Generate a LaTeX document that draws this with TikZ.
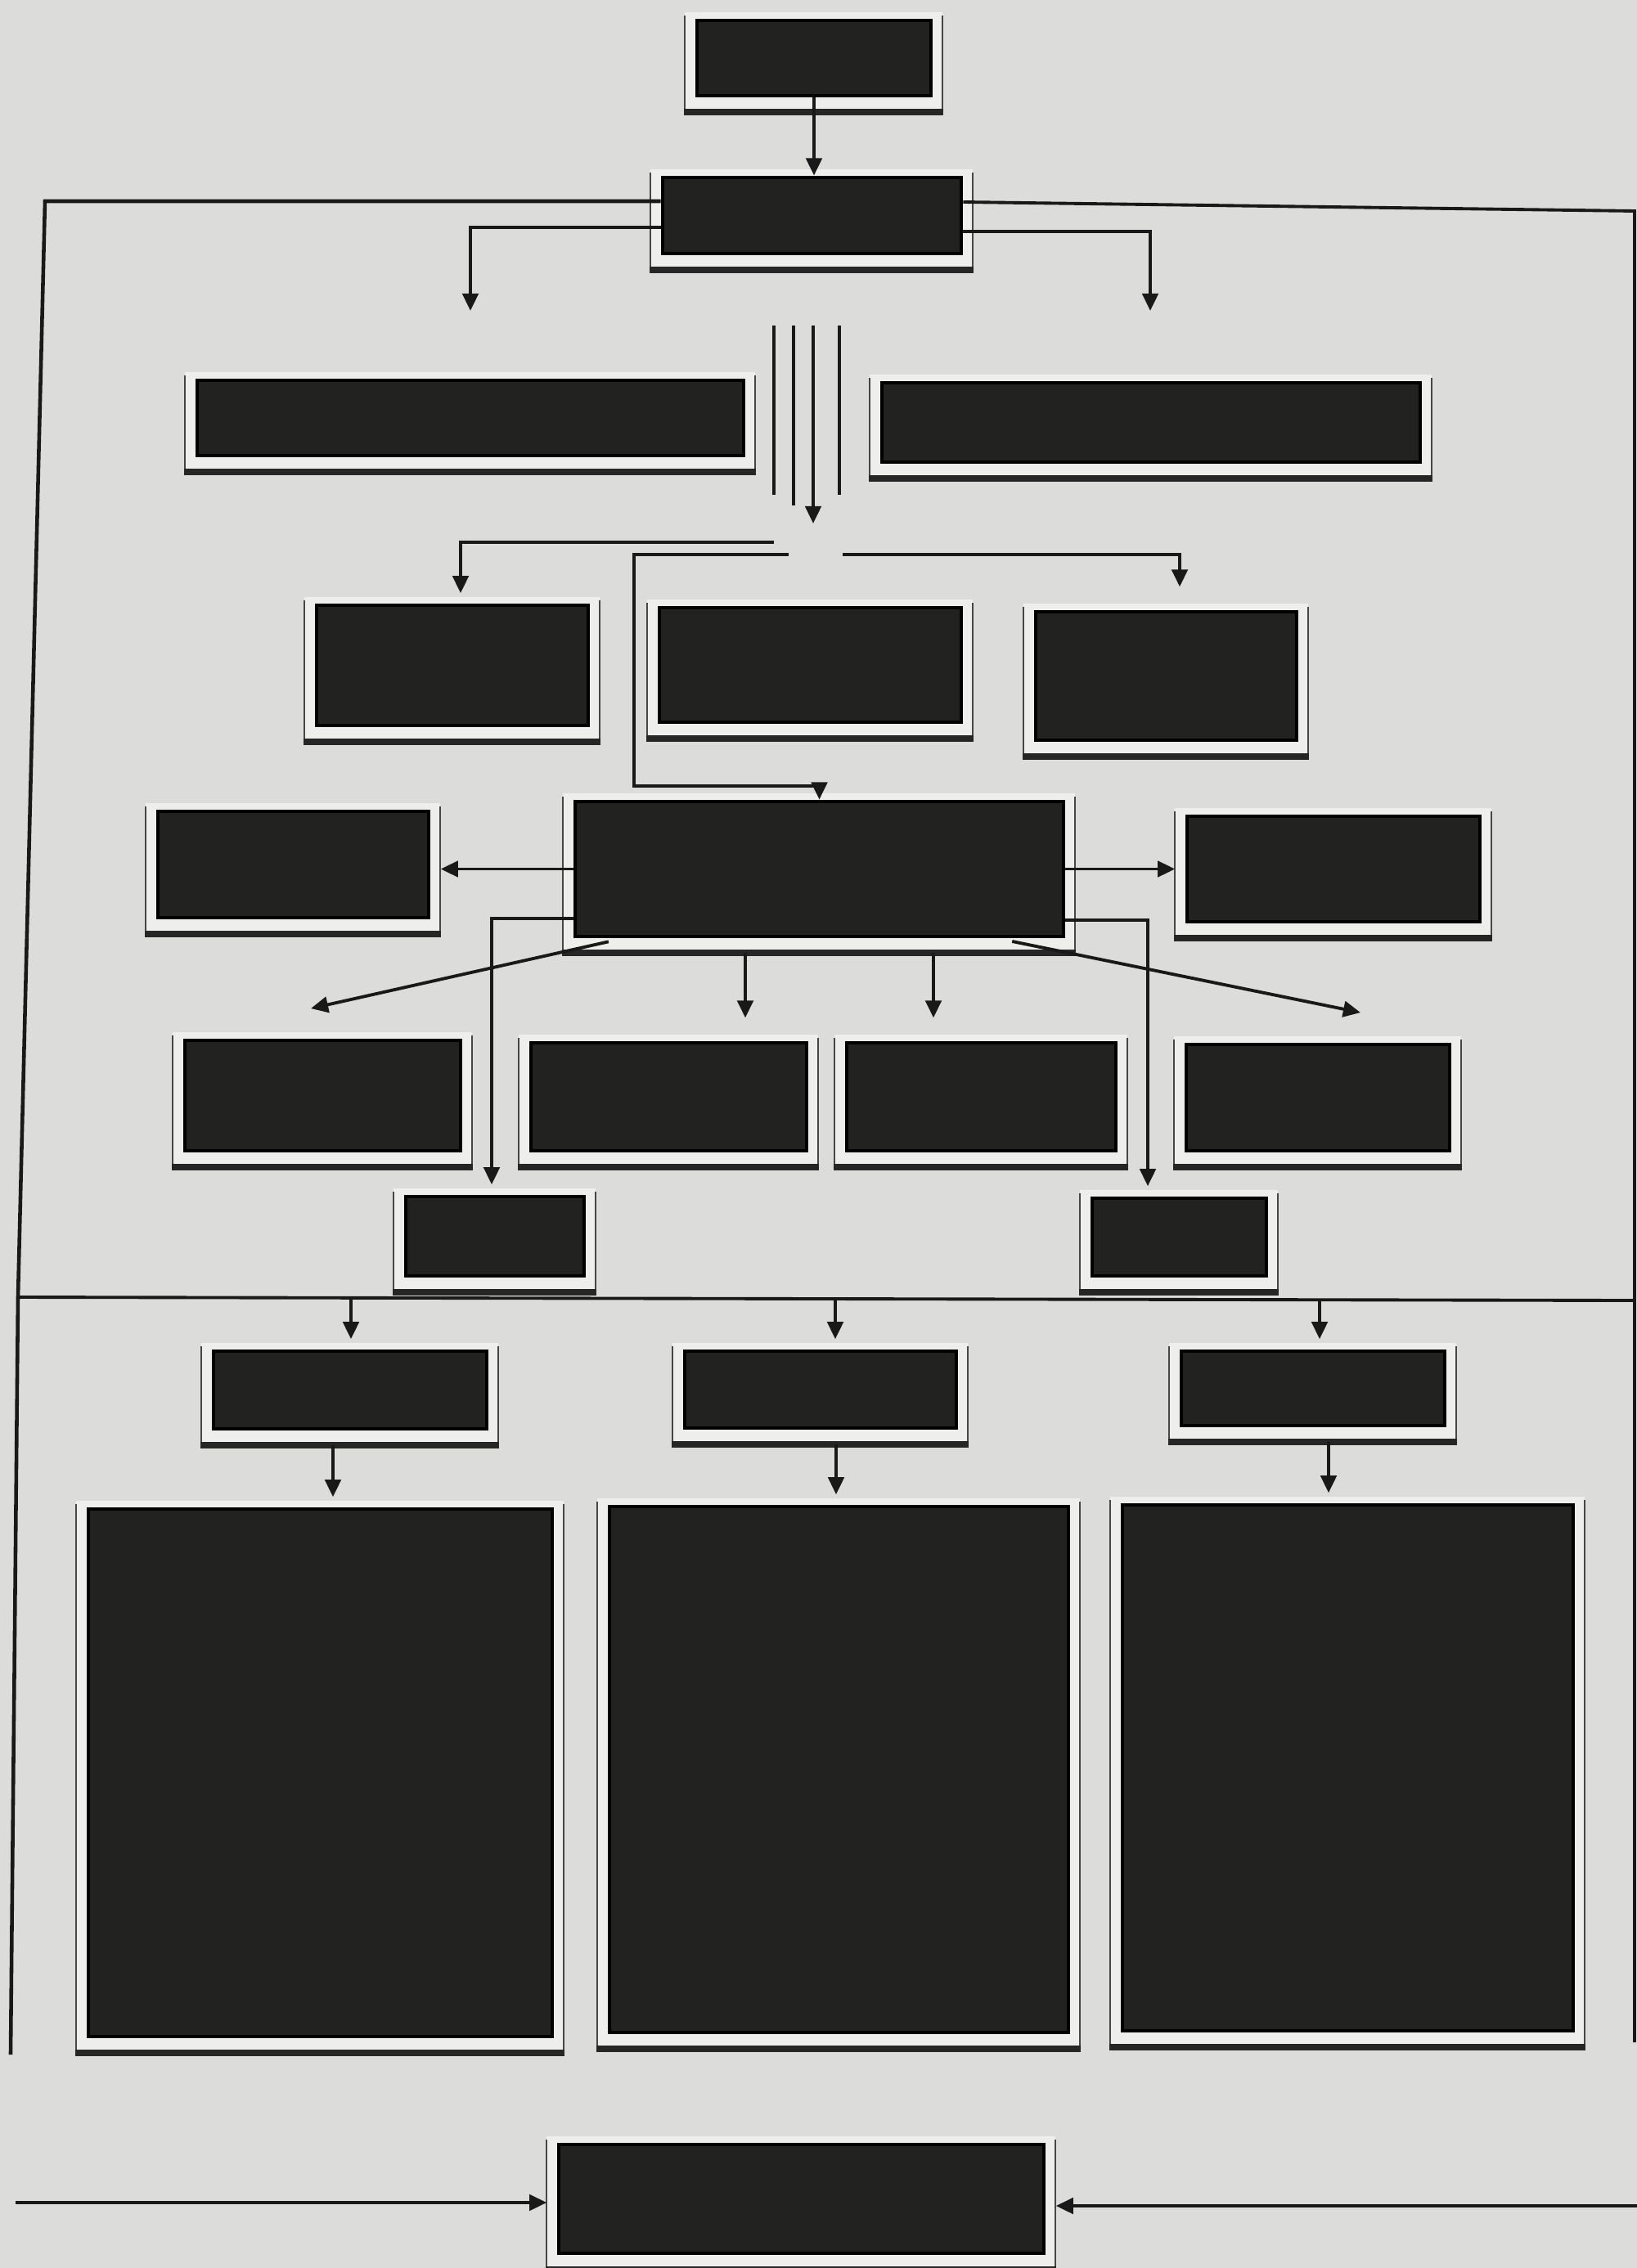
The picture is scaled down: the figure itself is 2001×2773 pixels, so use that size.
\documentclass[tikz,border=0pt]{standalone}
\usetikzlibrary{arrows.meta,fit}
\definecolor{bg}{RGB}{220,221,218}
\definecolor{boxfill}{RGB}{34,34,33}
\definecolor{framefill}{RGB}{238,239,236}
\definecolor{frameline}{RGB}{70,70,70}
\tikzset{
 dk/.style={draw=black, line width=1.4pt, fill=boxfill, inner sep=0pt},
 ln/.style={line width=1.1pt, draw=black!90},
 arr/.style={ln, -{Triangle[length=6pt,width=5.5pt]}},
 tofr/.style={shorten >=3.5pt},
 fromfr/.style={shorten <=5pt},
 frside/.style={draw=frameline, line width=0.8pt},
 frbot/.style={draw=black!85, line width=2.4pt},
}
\newcommand\dbox[5]{%
  \fill[framefill] (#2-15,#3-10) rectangle (#4+14,#5+20);
  \draw[frside] (#2-15,#3-6) -- (#2-15,#5+20) (#4+14,#3-6) -- (#4+14,#5+20);
  \draw[frbot] (#2-16,#5+20) -- (#4+15,#5+20);
  \node[dk, fit={(#2,#3) (#4,#5)}] (#1) {};}
\begin{document}
\begin{tikzpicture}[x=0.01cm,y=-0.01cm]
\fill[bg] (0,0) rectangle (2001,2773);
\useasboundingbox (0,0) rectangle (2001,2773);
% boxes
\dbox{b1}{852}{25}{1138}{117}
\dbox{b2}{810}{217}{1175}{310}
\dbox{r2l}{241}{465}{909}{557}
\dbox{r2r}{1078}{468}{1736}{565}
\dbox{r3a}{387}{740}{719}{887}
\dbox{r3b}{806}{743}{1175}{883}
\dbox{r3c}{1266}{748}{1585}{905}
\dbox{r4l}{193}{992}{524}{1122}
\dbox{r4c}{703}{980}{1300}{1145}
\dbox{r4r}{1451}{998}{1809}{1127}
\dbox{r5a}{226}{1272}{563}{1407}
\dbox{r5b}{649}{1275}{986}{1407}
\dbox{r5c}{1035}{1275}{1364}{1407}
\dbox{r5d}{1450}{1277}{1772}{1407}
\dbox{r6a}{496}{1463}{714}{1560}
\dbox{r6b}{1335}{1465}{1548}{1560}
\dbox{r7a}{261}{1652}{595}{1747}
\dbox{r7b}{837}{1652}{1169}{1746}
\dbox{r7c}{1444}{1652}{1766}{1743}
\dbox{b8a}{108}{1845}{675}{2490}
\dbox{b8b}{745}{1842}{1306}{2485}
\dbox{b8c}{1372}{1840}{1923}{2483}
\dbox{bot}{683}{2622}{1276}{2755}
% frame lines
\coordinate (ftl) at (55,246);
\coordinate (ftr) at (1998,258);
\coordinate (fml) at (22,1586);
\coordinate (fmr) at (1998,1590);
\draw[ln, line width=1.3pt] (ftl -| b2.west) -- (ftl) -- (fml) -- (13,2512);
\draw[ln] (b2.east |- 0,247) -- (ftr) -- (1998,2497);
\draw[ln] (fml) -- (fmr);
% top connectors
\draw[arr] (b1.south) -- (b1.south |- b2.north);
\draw[arr] (b2.west |- 0,278) -- (575,278) -- (575,380);
\draw[arr] (b2.east |- 0,283) -- (1406,283) -- (1406,380);
% four vertical lines
\draw[ln] (946,398) -- (946,605);
\draw[ln] (970,398) -- (970,618);
\draw[arr] (994,398) -- (994,640);
\draw[ln] (1026,398) -- (1026,605);
% row 3 branches
\draw[arr,tofr] (946,663) -- (563,663) -- (563,0 |- r3a.north);
\draw[arr,shorten >=8pt] (1030,678) -- (1442,678) -- (1442,0 |- r3c.north);
\draw[arr] (964,678) -- (775,678) -- (775,961) -- (r4c.north |- 0,961) -- (r4c.north);
% row 4 side arrows
\draw[arr,tofr] (r4c.west) -- (r4l.east |- r4c.west);
\draw[arr,tofr] (r4c.east) -- (r4r.west |- r4c.east);
\draw[arr,tofr] (r4c.west |- 0,1123) -- (601,1123) -- (601,0 |- r6a.north);
\draw[arr,tofr] (r4c.east |- 0,1125) -- (1403,1125) -- (1403,0 |- r6b.north);
% fan to row 5
\coordinate (fanl) at (380,1233);
\coordinate (fanr) at (1663,1238);
\draw[arr,fromfr] (r4c.south -| 761,0) -- (fanl);
\draw[arr,fromfr,shorten >=8pt] (r4c.south -| 911,0) -- (911,0 |- r5b.north);
\draw[arr,fromfr,shorten >=8pt] (r4c.south -| 1141,0) -- (1141,0 |- r5c.north);
\draw[arr,fromfr] (r4c.south -| 1220,0) -- (fanr);
% from middle line to row 7
\draw[arr,tofr] (429,1587) -- (r7a.north -| 429,0);
\draw[arr,tofr] (1021,1588) -- (r7b.north -| 1021,0);
\draw[arr,tofr] (1613,1589) -- (r7c.north -| 1613,0);
% row 7 to big boxes
\draw[arr,fromfr,tofr] (r7a.south -| 407,0) -- (b8a.north -| 407,0);
\draw[arr,fromfr,tofr] (r7b.south -| 1022,0) -- (b8b.north -| 1022,0);
\draw[arr,fromfr,tofr] (r7c.south -| 1624,0) -- (b8c.north -| 1624,0);
% bottom arrows
\draw[arr,tofr] (19,2693) -- (bot.west |- 0,2693);
\draw[arr,tofr] (2001,2697) -- (bot.east |- 0,2697);
\end{tikzpicture}
\end{document}
